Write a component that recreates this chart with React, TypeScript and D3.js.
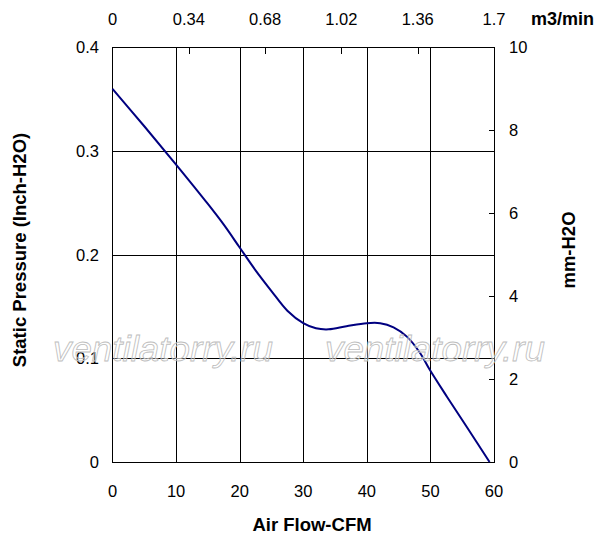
import React, { useEffect, useRef } from 'react';
import * as d3 from 'd3';

// P-Q curve (CFM, inch H2O)
const airFlow = [0, 5, 10, 15, 17.5, 20, 22.5, 25, 27.5, 30, 32, 34, 36.8, 40.0, 42.1, 44.2, 46.3, 48.4, 49.9, 52.6, 55.7, 59.3];
const pressure = [0.36, 0.324, 0.287, 0.249, 0.229, 0.207, 0.185, 0.165, 0.146, 0.134, 0.129, 0.128, 0.131, 0.134, 0.134, 0.13, 0.121, 0.105, 0.089, 0.063, 0.034, 0];

const cfmTicks = [0, 10, 20, 30, 40, 50, 60];
const inchTicks = [0, 0.1, 0.2, 0.3, 0.4];
const m3Ticks = [0, 0.34, 0.68, 1.02, 1.36, 1.7];
const mmTicks = [0, 2, 4, 6, 8, 10];

const watermark = 'ventilatorry.ru';

export default function App() {
  const svgRef = useRef<SVGSVGElement>(null);

  useEffect(() => {
    const width = 600;
    const height = 541;
    const left = 112.5, right = 494, top = 47.5, bottom = 462;
    const font = 'Arial, "Liberation Sans", sans-serif';

    const svg = d3.select(svgRef.current);
    svg.selectAll('*').remove();
    svg.attr('width', width).attr('height', height);

    svg.append('rect').attr('width', width).attr('height', height).attr('fill', '#fff');

    const x = d3.scaleLinear().domain([0, 60]).range([left, right]);
    const y = d3.scaleLinear().domain([0, 0.4]).range([bottom, top]);
    const xTop = d3.scaleLinear().domain([0, 1.7]).range([left, right]);
    const yRight = d3.scaleLinear().domain([0, 10]).range([bottom, top]);

    // grid
    const grid = svg.append('g').attr('stroke', '#000').attr('stroke-width', 1).attr('shape-rendering', 'crispEdges');
    grid.selectAll('.vx')
      .data(cfmTicks.slice(1, -1))
      .enter()
      .append('line')
      .attr('x1', d => Math.round(x(d)) + 0.5)
      .attr('x2', d => Math.round(x(d)) + 0.5)
      .attr('y1', top)
      .attr('y2', bottom);
    grid.selectAll('.hy')
      .data(inchTicks.slice(1, -1))
      .enter()
      .append('line')
      .attr('x1', left)
      .attr('x2', right)
      .attr('y1', d => Math.round(y(d)) + 0.5)
      .attr('y2', d => Math.round(y(d)) + 0.5);

    // top axis inner ticks
    grid.selectAll('.tt')
      .data(m3Ticks.slice(1, -1))
      .enter()
      .append('line')
      .attr('x1', d => Math.round(xTop(d)) + 0.5)
      .attr('x2', d => Math.round(xTop(d)) + 0.5)
      .attr('y1', top)
      .attr('y2', top + 6);

    // right axis inner ticks
    grid.selectAll('.rt')
      .data(mmTicks.slice(1, -1))
      .enter()
      .append('line')
      .attr('x1', right - 5)
      .attr('x2', right)
      .attr('y1', d => Math.round(yRight(d)) + 0.5)
      .attr('y2', d => Math.round(yRight(d)) + 0.5);

    // frame
    svg.append('rect')
      .attr('x', left)
      .attr('y', top)
      .attr('width', right - left)
      .attr('height', bottom - top)
      .attr('fill', 'none')
      .attr('stroke', '#000')
      .attr('shape-rendering', 'crispEdges');

    // curve
    const pts = airFlow.map((f, i) => [f, pressure[i]] as [number, number]);
    const line = d3.line<[number, number]>()
      .x(d => x(d[0]))
      .y(d => y(d[1]))
      .curve(d3.curveCatmullRom.alpha(0.5));
    svg.append('path')
      .attr('d', line(pts) || '')
      .attr('fill', 'none')
      .attr('stroke', '#000080')
      .attr('stroke-width', 2);

    // tick labels
    const label = (g: d3.Selection<SVGGElement, unknown, null, undefined>) =>
      g.style('font-family', font).style('font-size', '16.5px').attr('fill', '#000');

    label(svg.append('g')).selectAll('text')
      .data(cfmTicks)
      .enter()
      .append('text')
      .attr('x', d => x(d))
      .attr('y', 497)
      .attr('text-anchor', 'middle')
      .text(d => String(d));

    label(svg.append('g')).selectAll('text')
      .data(inchTicks)
      .enter()
      .append('text')
      .attr('x', 99)
      .attr('y', d => y(d))
      .attr('dy', '0.35em')
      .attr('text-anchor', 'end')
      .text(d => String(d));

    label(svg.append('g')).selectAll('text')
      .data(m3Ticks)
      .enter()
      .append('text')
      .attr('x', d => xTop(d))
      .attr('y', 25)
      .attr('text-anchor', 'middle')
      .text(d => String(d));

    label(svg.append('g')).selectAll('text')
      .data(mmTicks)
      .enter()
      .append('text')
      .attr('x', 509)
      .attr('y', d => yRight(d))
      .attr('dy', '0.35em')
      .text(d => String(d));

    // axis titles
    const bold = (sel: d3.Selection<SVGTextElement, unknown, null, undefined>) =>
      sel.style('font-family', font).style('font-size', '18.5px').style('font-weight', 'bold').attr('fill', '#000');

    bold(svg.append('text')).attr('x', 531).attr('y', 25).style('font-size', '18px').text('m3/min');
    bold(svg.append('text')).attr('x', 312).attr('y', 531).attr('text-anchor', 'middle').text('Air Flow-CFM');
    bold(svg.append('text'))
      .attr('transform', 'translate(26, 250) rotate(-90)')
      .attr('text-anchor', 'middle')
      .text('Static Pressure (Inch-H2O)');
    bold(svg.append('text'))
      .attr('transform', 'translate(575, 250) rotate(-90)')
      .attr('text-anchor', 'middle')
      .text('mm-H2O');

    // watermark
    svg.selectAll('.wm')
      .data([53, 325])
      .enter()
      .append('text')
      .attr('x', d => d)
      .attr('y', 361)
      .attr('textLength', 220)
      .attr('lengthAdjust', 'spacingAndGlyphs')
      .style('font-family', font)
      .style('font-size', '35px')
      .style('font-style', 'italic')
      .attr('fill', 'rgba(255,255,255,0.35)')
      .attr('stroke', '#bdbdbd')
      .attr('stroke-width', 0.8)
      .text(watermark);
  }, []);

  return (
    <div style={{ position: 'absolute', left: 0, top: 0 }}>
      <svg ref={svgRef}></svg>
    </div>
  );
}
